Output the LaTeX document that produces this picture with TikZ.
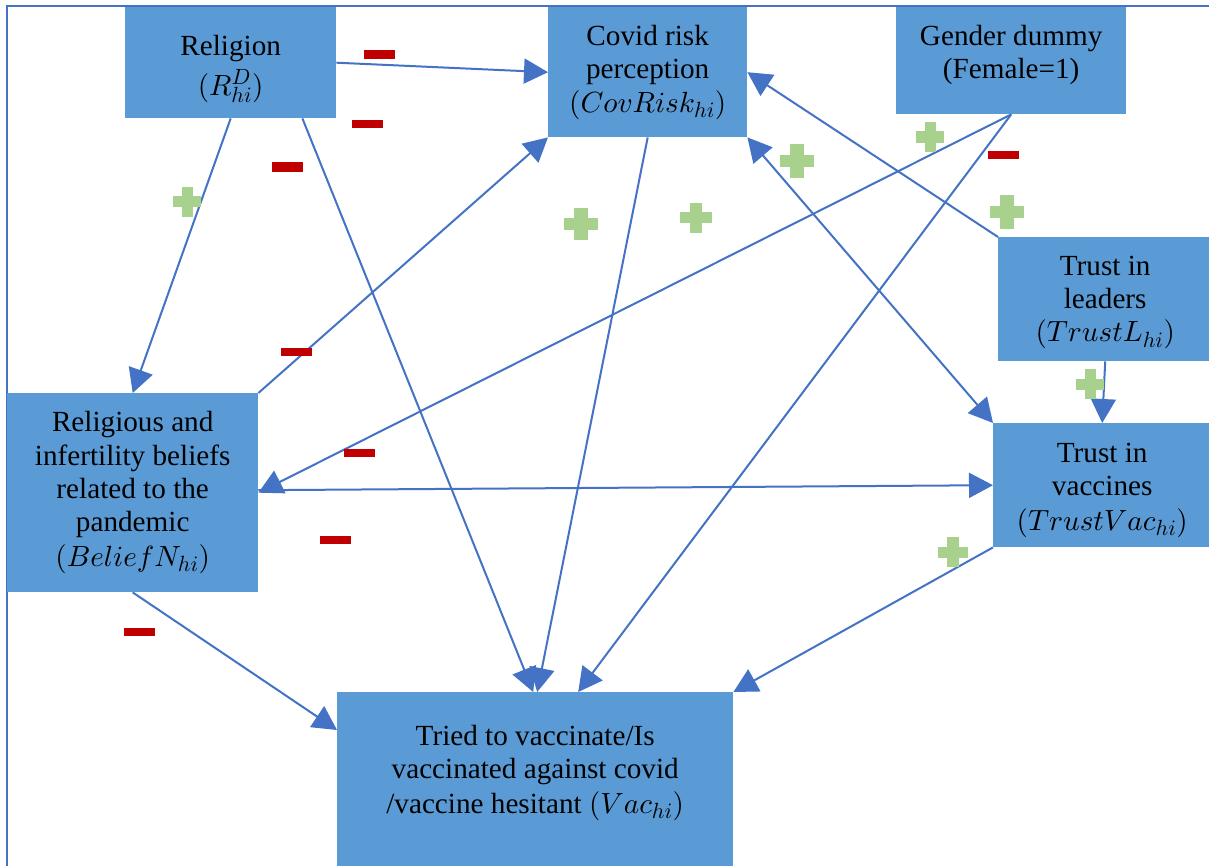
\documentclass[tikz,border=0pt]{standalone}
\usepackage{fontspec}
\setmainfont{Liberation Serif}
\DeclareFontShape{OML}{cmm}{m}{it}{<->cmmi10}{}
\DeclareFontShape{OMS}{cmsy}{m}{n}{<->cmsy10}{}
\DeclareFontShape{OT1}{cmr}{m}{n}{<->cmr10}{}
\DeclareMathSizes{29.2}{29.2}{22}{16}
\usetikzlibrary{arrows.meta,calc}
\definecolor{boxblue}{HTML}{5B9BD5}
\definecolor{lineblue}{HTML}{4472C4}
\definecolor{minusred}{HTML}{C00000}
\definecolor{plusgreen}{HTML}{A9D18E}
\newcommand\topstrut[1]{\rule{0pt}{#1}}
\newcommand\botstrut[1]{\rule[-#1]{0pt}{0pt}}
\tikzset{
  box/.style={rectangle, fill=boxblue, inner sep=0pt, anchor=north west, align=center,
    text=black, font=\fontsize{29.2}{33.4}\selectfont},
  tip/.tip={Triangle[length=24pt,width=25pt]},
  conn/.style={draw=lineblue, line width=2pt, -tip},
  minus/.style={rectangle, fill=minusred, inner sep=0pt, minimum width=31pt, minimum height=8pt},
  plussign/.pic={
    \fill[plusgreen] (-14,-5.5) rectangle (14,5.5);
    \fill[plusgreen] (-5.5,-15) rectangle (5.5,15);
  }
}
\begin{document}
\begin{tikzpicture}[x=1pt,y=-1pt]
\useasboundingbox (0,0) rectangle (1209,866);
\clip (0,0) rectangle (1209,866);
\fill[white] (0,0) rectangle (1209,866);
% frame
\draw[lineblue, line width=2pt] (7,870) -- (7,6) -- (1212,6);

% boxes
\node[box, minimum width=211pt, minimum height=111pt] (rel) at (125,7)
  {\topstrut{32pt}Religion\\[6.6pt]$(R^{D}_{hi})$};
\node[box, minimum width=199pt, minimum height=130pt] (cov) at (548,7)
  {Covid risk\\perception\\$(CovRisk_{hi})$};
\node[box, minimum width=230pt, minimum height=107pt] (gen) at (896,7)
  {Gender dummy\\(Female=1)\botstrut{17.5pt}};
\node[box, minimum width=214pt, minimum height=124pt] (tl) at (998,237)
  {\topstrut{26pt}Trust in\\leaders\\$(TrustL_{hi})$};
\node[box, minimum width=218pt, minimum height=124pt] (tv) at (993,423)
  {\topstrut{30pt}Trust in\\vaccines\\[1.5pt]$(TrustVac_{hi})$};
\node[box, minimum width=251pt, minimum height=199pt] (bel) at (7,393)
  {Religious and\\infertility beliefs\\related to the\\pandemic\\[1.5pt]$(BeliefN_{hi})$};
\node[box, minimum width=396pt, minimum height=174pt] (vac) at (337,692)
  {Tried to vaccinate/Is\\vaccinated against covid\\[1pt]/vaccine hesitant $(Vac_{hi})$\botstrut{20pt}};

% connectors
\draw[conn] (rel.east) -- (cov.west);
\draw[conn] (rel.south) -- (bel.north);
\draw[conn] ($(rel.south east)+(-34,0)$) -- ([xshift=-2pt]vac.north);
\draw[conn] (cov.south) -- ([xshift=2pt]vac.north);
\draw[conn] (gen.south) -- (bel.east);
\draw[conn] (gen.south) -- ([xshift=43pt]vac.north);
\draw[conn] ([yshift=2.5pt]bel.east) -- (tv.west);
\draw[conn] (bel.north east) -- (cov.south west);
\draw[conn] (bel.south) -- ([yshift=-38pt]vac.north west);
\draw[conn] (tl.north west) -- (cov.east);
\draw[conn, tip-tip] (cov.south east) -- (tv.north west);
\draw[conn] (tl.south) -- (tv.north);
\draw[conn] (tv.south west) -- (vac.north east);

% minus signs
\node[minus, minimum height=9pt] (m1) at (379,55) {};
\node[minus] (m2) at (367,124) {};
\node[minus, minimum height=10pt] (m3) at (287,167) {};
\node[minus] (m4) at (1003,155) {};
\node[minus] (m5) at (296,352) {};
\node[minus] (m6) at (359,453) {};
\node[minus] (m7) at (335,540) {};
\node[minus] (m8) at (139,632) {};

% plus signs
\pic at (187,202) {plussign};
\pic[xscale=1.2,yscale=1.05] at (581,224) {plussign};
\pic[xscale=1.12,yscale=1] at (696,218) {plussign};
\pic[xscale=1.22,yscale=1.15] at (797,161) {plussign};
\pic[xscale=1,yscale=1.03] at (930,137) {plussign};
\pic[xscale=1.2,yscale=1.13] at (1007,212) {plussign};
\pic at (1090,384) {plussign};
\pic[xscale=1.05,yscale=1] at (953,552) {plussign};
\end{tikzpicture}
\end{document}
